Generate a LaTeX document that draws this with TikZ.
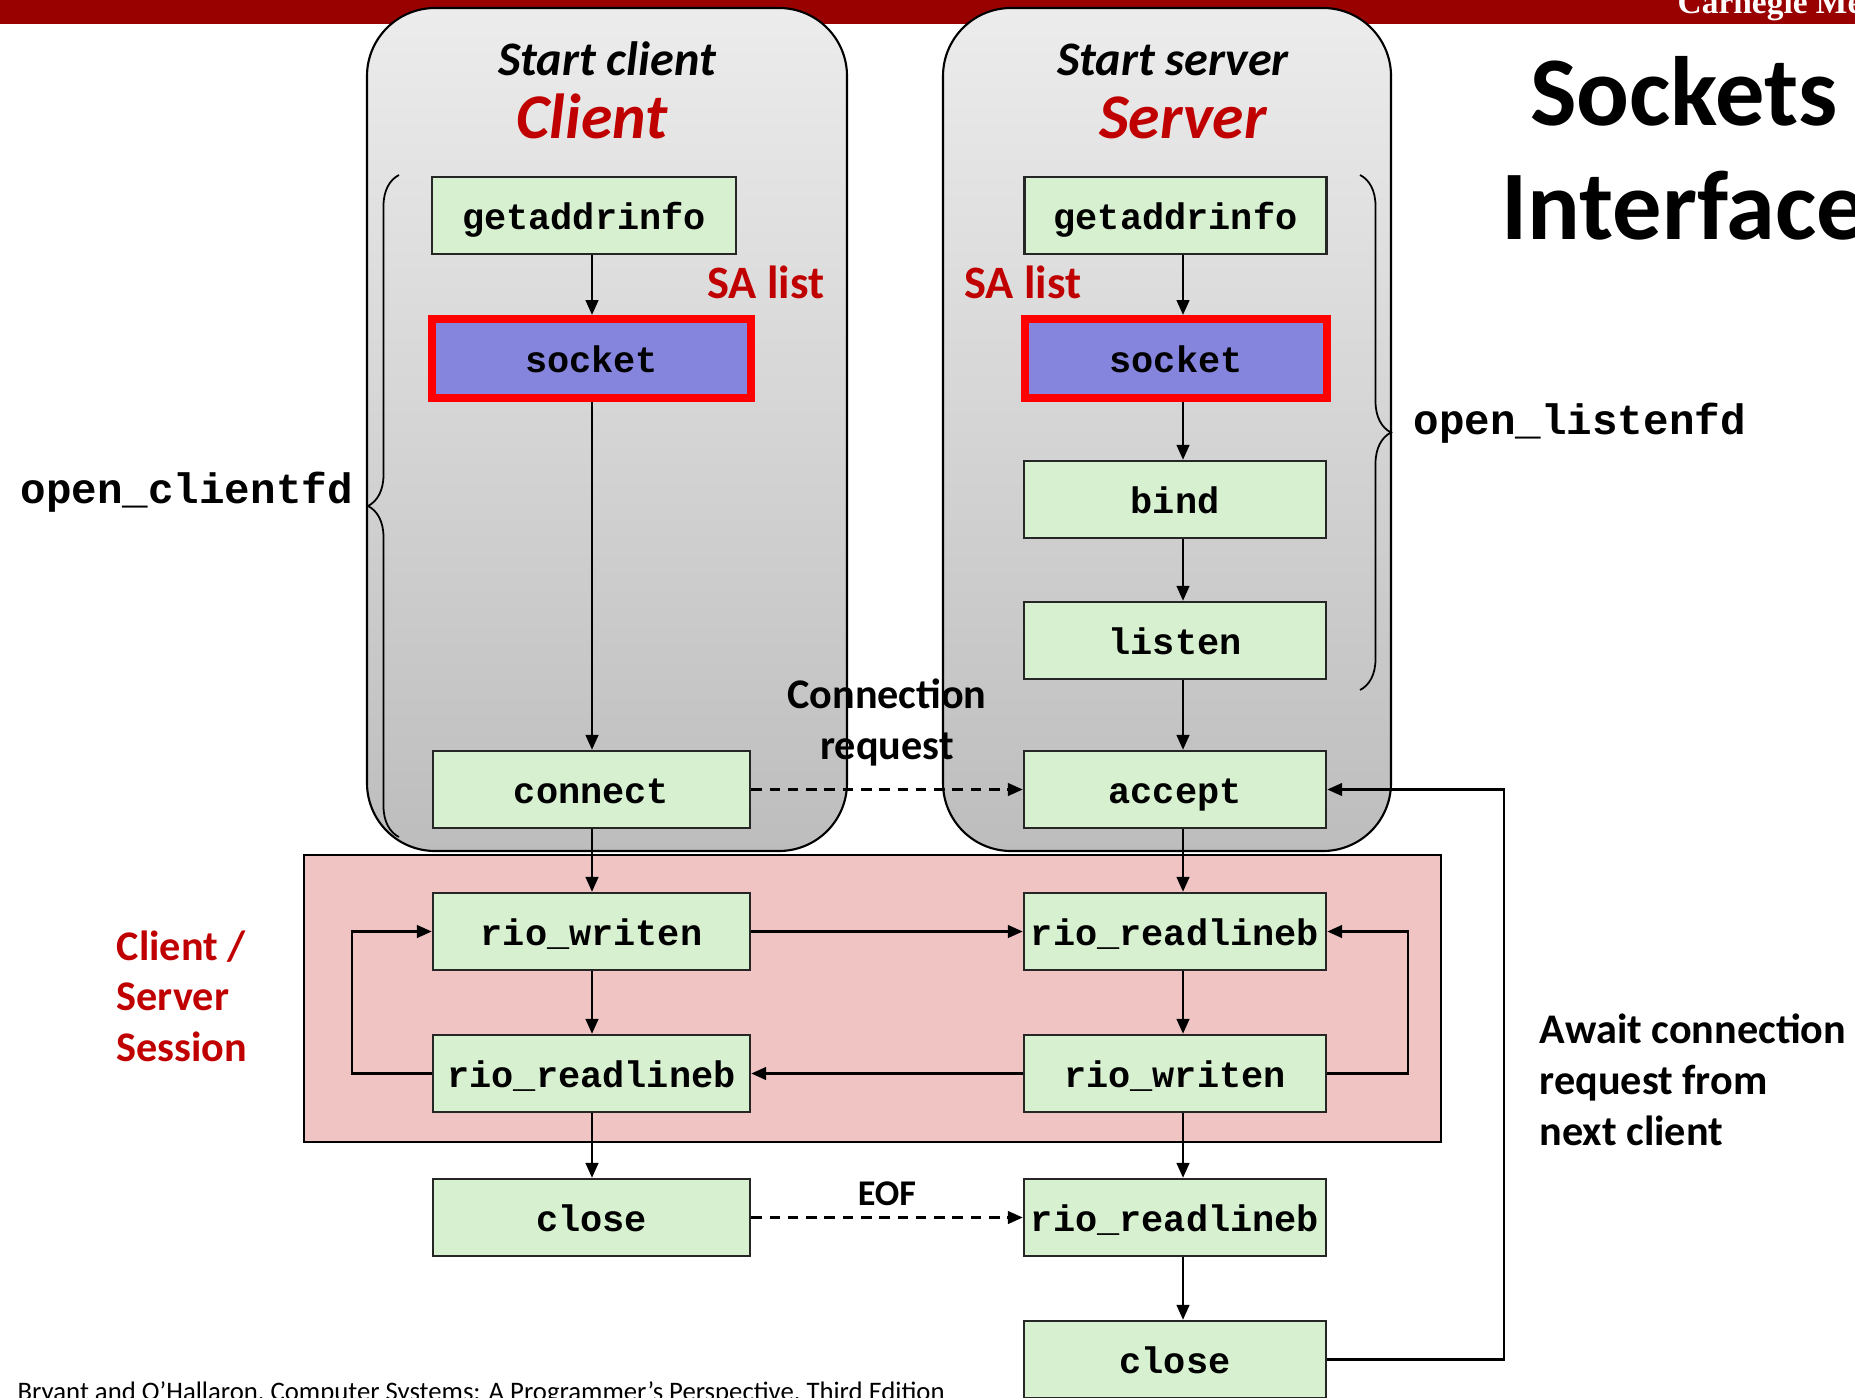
\documentclass[tikz,border=0pt]{standalone}
\usepackage{fontspec}
\setmainfont{Carlito}
\setmonofont{Liberation Mono}
\newfontfamily\cmufont{Liberation Serif}
\usetikzlibrary{arrows.meta}
\usetikzlibrary{decorations.pathreplacing}

\definecolor{cmured}{RGB}{153,0,0}
\definecolor{titlered}{RGB}{192,0,0}
\definecolor{callgreen}{RGB}{214,240,208}
\definecolor{sockblue}{RGB}{133,133,222}
\definecolor{sessionpink}{RGB}{241,196,196}
\definecolor{paneltop}{RGB}{236,236,236}
\definecolor{panelbottom}{RGB}{189,189,189}

\tikzset{
  call/.style={shape=rectangle, draw=black!85, line width=0.7pt, fill=callgreen,
    minimum width=3.17cm, minimum height=0.77cm, inner sep=0,
    text height=9pt, text depth=1.3pt,
    font=\ttfamily\bfseries\fontsize{10.5}{12}\selectfont},
  srvcall/.style={call, minimum width=3.02cm},
  sockcall/.style={call, draw=red, line width=2.3pt, fill=sockblue,
    minimum width=3.19cm, minimum height=0.79cm},
  flow/.style={->, line width=0.6pt},
  msg/.style={flow, dash pattern=on 3pt off 2.2pt},
  panel/.style={draw, line width=0.6pt, rounded corners=0.68cm,
    top color=paneltop, bottom color=panelbottom},
  fdbrace/.style={decorate, decoration={brace, amplitude=0.31cm, aspect=0.5},
    line width=0.5pt},
  heading/.style={anchor=base, inner sep=0, font=\bfseries\itshape\fontsize{13.7}{16}\selectfont},
  side/.style={anchor=base, inner sep=0, text=titlered, font=\bfseries\itshape\fontsize{18.1}{21}\selectfont},
  salist/.style={anchor=base, inner sep=0, text=titlered, font=\bfseries\fontsize{13.2}{15}\selectfont},
  note/.style={inner sep=0, font=\bfseries\fontsize{12}{14.5}\selectfont},
  fdname/.style={anchor=base west, inner sep=0, font=\ttfamily\bfseries\fontsize{12.1}{14}\selectfont}
}

\begin{document}
\begin{tikzpicture}[x=0.01cm, y=-0.01cm, >={Triangle[length=4.2pt,width=3.6pt]}]
  \useasboundingbox (0,0) rectangle (1855,1397);
  \fill [cmured] (0,0) rectangle (1855,24);
  \path (1677,14) node [anchor=base west, inner sep=0, text=white,
    font=\cmufont\bfseries\fontsize{9.5}{11}\selectfont] {Carnegie Mellon};

  \path [panel] (367,8) rectangle (847,851);
  \path [panel] (943,8) rectangle (1391,851);
  \draw [line width=0.7pt, fill=sessionpink] (304,855) rectangle (1441,1142);

  \path (607,76) node [heading] {Start client};
  \path (592,139) node [side] {Client};
  \path (1173,76) node [heading] {Start server};
  \path (1183,139) node [side] {Server};
  \path (766,298) node [salist] {SA list};
  \path (1023,298) node [salist] {SA list};

  \path (1684,239) node [anchor=base, align=center, inner sep=0,
    font=\bfseries\fontsize{28}{32.4}\selectfont] {Sockets\\Interface};

  \draw [fdbrace] (399,837) -- (399,175);
  \draw [fdbrace] (1360,175) -- (1360,690);
  \path (20,503) node [fdname] {open\_clientfd};
  \path (1413,434) node [fdname] {open\_listenfd};

  \path (584,215.5) node (cgai) [call, minimum width=3.04cm] {getaddrinfo};
  \path (591.5,358.5) node (csock) [sockcall] {socket};
  \path (591.5,789.5) node (connect) [call] {connect};
  \path (591.5,931.5) node (cwrite) [call] {rio\_writen};
  \path (591.5,1073.5) node (cread) [call] {rio\_readlineb};
  \path (591.5,1217.5) node (cclose) [call] {close};

  \path (1175.5,215.5) node (sgai) [srvcall] {getaddrinfo};
  \path (1176,358.5) node (ssock) [sockcall, minimum width=3.02cm] {socket};
  \path (1175,499.5) node (bind) [srvcall] {bind};
  \path (1175,640.5) node (listen) [srvcall] {listen};
  \path (1175,789.5) node (accept) [srvcall] {accept};
  \path (1175,931.5) node (sread) [srvcall] {rio\_readlineb};
  \path (1175,1073.5) node (swrite) [srvcall] {rio\_writen};
  \path (1175,1217.5) node (seof) [srvcall] {rio\_readlineb};
  \path (1175,1359.5) node (sclose) [srvcall] {close};

  \coordinate (ccol) at (592,0);
  \coordinate (scol) at (1183,0);
  \draw [flow] (cgai.south -| ccol) -- (csock.north -| ccol);
  \draw [flow] (csock.south -| ccol) -- (connect.north -| ccol);
  \draw [flow] (connect.south -| ccol) -- (cwrite.north -| ccol);
  \draw [flow] (cwrite.south -| ccol) -- (cread.north -| ccol);
  \draw [flow] (cread.south -| ccol) -- (cclose.north -| ccol);
  \draw [flow] (cread.west) -- ++(-80,0) |- (cwrite.west);

  \draw [flow] (sgai.south -| scol) -- (ssock.north -| scol);
  \draw [flow] (ssock.south -| scol) -- (bind.north -| scol);
  \draw [flow] (bind.south -| scol) -- (listen.north -| scol);
  \draw [flow] (listen.south -| scol) -- (accept.north -| scol);
  \draw [flow] (accept.south -| scol) -- (sread.north -| scol);
  \draw [flow] (sread.south -| scol) -- (swrite.north -| scol);
  \draw [flow] (swrite.south -| scol) -- (seof.north -| scol);
  \draw [flow] (seof.south -| scol) -- (sclose.north -| scol);
  \draw [flow] (swrite.east) -- ++(81,0) |- (sread.east);
  \draw [flow] (sclose.east) -- ++(177,0) |- (accept.east);

  \draw [flow] (cwrite) -- (sread);
  \draw [flow] (swrite) -- (cread);
  \draw [msg] (connect) -- (accept)
    node [midway, above=0.22cm, note, align=center] {Connection\\request};
  \draw [msg] (cclose) -- (seof)
    node [midway, above=0.11cm, note, font=\bfseries\fontsize{10.3}{12}\selectfont] {EOF};

  \path (116,1061) node [note, anchor=base west, align=left, text=titlered,
    font=\bfseries\fontsize{12}{14.3}\selectfont] {Client /\\Server\\Session};
  \path (1539,1145) node [note, anchor=base west, align=left]
    {Await connection\\request from\\next client};

  \path (17,1400) node [anchor=base west, inner sep=0, font=\fontsize{7.6}{9}\selectfont]
    {Bryant and O’Hallaron, Computer Systems: A Programmer’s Perspective, Third Edition};
\end{tikzpicture}
\end{document}
